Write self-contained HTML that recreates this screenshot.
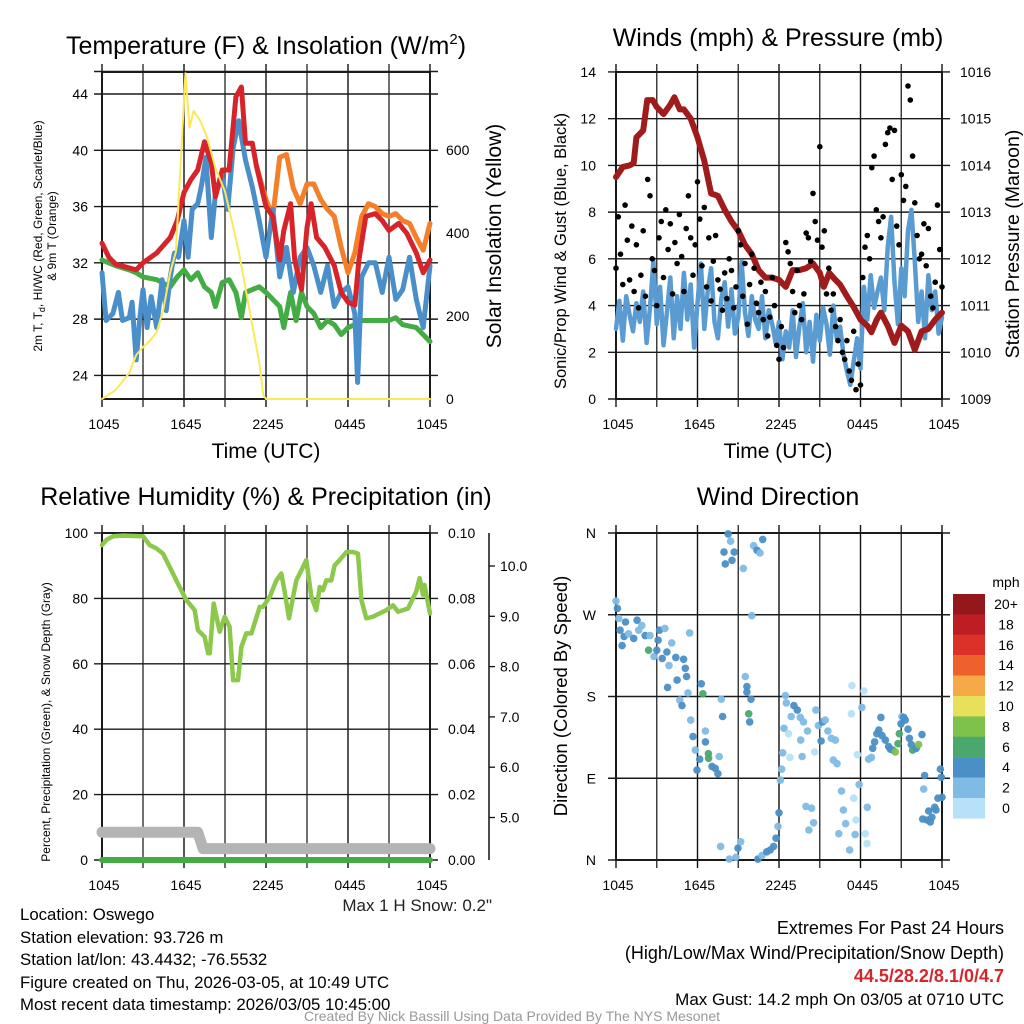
<!DOCTYPE html>
<html><head><meta charset="utf-8"><style>
html,body{margin:0;padding:0;background:#fff;}
svg{display:block;font-family:"Liberation Sans",Arial,sans-serif;}
</style></head><body>
<svg id="chart" width="1024" height="1024" viewBox="0 0 1024 1024" xmlns="http://www.w3.org/2000/svg">
<rect width="1024" height="1024" fill="#fff"/>
<g id="grids"></g>
<g id="series"></g>
<g id="labels" font-size="14" fill="#000">
 <text x="266" y="54" font-size="25" text-anchor="middle">Temperature (F) &amp; Insolation (W/m<tspan font-size="15" dy="-10">2</tspan><tspan dy="10">)</tspan></text>
 <text x="778" y="46" font-size="25" text-anchor="middle">Winds (mph) &amp; Pressure (mb)</text>
 <text x="266" y="505" font-size="25" text-anchor="middle">Relative Humidity (%) &amp; Precipitation (in)</text>
 <text x="778" y="505" font-size="25" text-anchor="middle">Wind Direction</text>
 <g font-size="12" text-anchor="middle">
  <text transform="translate(42,236) rotate(-90)">2m T, T<tspan font-size="9" dy="3">d</tspan><tspan dy="-3">, HI/WC (Red, Green, Scarlet/Blue)</tspan></text>
  <text transform="translate(56,236) rotate(-90)">&amp; 9m T (Orange)</text>
 </g>
 <text transform="translate(501,236) rotate(-90)" font-size="21" text-anchor="middle">Solar Insolation (Yellow)</text>
 <text transform="translate(566,251) rotate(-90)" font-size="16.5" text-anchor="middle">Sonic/Prop Wind &amp; Gust (Blue, Black)</text>
 <text transform="translate(1019,244) rotate(-90)" font-size="19.5" text-anchor="middle">Station Pressure (Maroon)</text>
 <text transform="translate(50,722) rotate(-90)" font-size="12" text-anchor="middle">Percent, Precipitation (Green), &amp; Snow Depth (Gray)</text>
 <text transform="translate(567,696) rotate(-90)" font-size="18.5" text-anchor="middle">Direction (Colored By Speed)</text>
 <text x="266" y="458" font-size="21" text-anchor="middle">Time (UTC)</text>
 <text x="778" y="458" font-size="21" text-anchor="middle">Time (UTC)</text>
 <text x="492" y="911" font-size="17" text-anchor="end" fill="#222">Max 1 H Snow: 0.2"</text>
 <text x="1006" y="587" text-anchor="middle">mph</text>
 <g font-size="16.8">
  <text x="20" y="920">Location: Oswego</text>
  <text x="20" y="943">Station elevation: 93.726 m</text>
  <text x="20" y="965">Station lat/lon: 43.4432; -76.5532</text>
  <text x="20" y="988">Figure created on Thu, 2026-03-05, at 10:49 UTC</text>
  <text x="20" y="1010">Most recent data timestamp: 2026/03/05 10:45:00</text>
 </g>
 <g text-anchor="end" font-size="18">
  <text x="1004" y="934">Extremes For Past 24 Hours</text>
  <text x="1004" y="959">(High/Low/Max Wind/Precipitation/Snow Depth)</text>
  <text x="1004" y="982" fill="#d7262b" font-weight="bold">44.5/28.2/8.1/0/4.7</text>
  <text x="1004" y="1005" font-size="17">Max Gust: 14.2 mph On 03/05 at 0710 UTC</text>
 </g>
 <text x="512" y="1021" font-size="14" text-anchor="middle" fill="#999">Created By Nick Bassill Using Data Provided By The NYS Mesonet</text>
</g>
</svg>
<script>
// ---------- data ----------
const xTickLabels=["1045","1645","2245","0445","1045"];
const tempTicks=[24,28,32,36,40,44];
const insolTicks=[0,200,400,600];
const windTicks=[0,2,4,6,8,10,12,14];
const presTicks=[1009,1010,1011,1012,1013,1014,1015,1016];
const rhTicks=[0,20,40,60,80,100];
const precipTicks=["0.00","0.02","0.04","0.06","0.08","0.10"];
const snowTicks=["5.0","6.0","7.0","8.0","9.0","10.0"];
const dirTicks=["N","E","S","W","N"];
const legendLabels=["20+","18","16","14","12","10","8","6","4","2","0"];
const legendColors=["#93171b","#bd1e26","#dc3128","#ee612d","#f6aa47","#e6e05a","#7fc24b","#4aa86e","#4a8fc6","#80bbe5","#b6e1f8"];

const redH=[0,0.5,1,2.5,3,4,5,5.5,6,6.5,7,7.5,8,8.3,8.8,9.3,9.8,10.2,10.5,11,11.3,12,12.5,13,13.3,13.8,14.1,14.6,15,15.3,15.7,16.3,17,17.5,18,18.5,18.8,19.3,20,20.5,21,21.7,22.3,23,23.5,24];
const redV=[33.4,32.4,31.9,31.5,32.0,32.7,33.8,35.0,37.0,37.9,38.6,40.6,39.1,36.7,38.6,38.6,43.8,44.5,40.5,40.5,38.9,36.0,35.3,32.2,34.3,36.2,32.2,30.1,34.5,36.2,33.8,33.1,31.8,29.9,29.2,29.0,32.2,35.3,35.5,35.0,34.3,34.8,34.1,32.7,31.3,32.2];
const orangeH=[11.3,12,12.5,13,13.5,14,14.5,15,15.5,16,16.5,17,17.5,18,18.5,19,19.5,20,20.5,21,21.5,22,22.5,23,23.5,24];
const orangeV=[38.9,36.5,35.3,39.5,39.7,37.3,36.2,37.6,37.6,36.5,35.8,35.3,33.1,31.3,32.7,35.3,36.2,36.0,35.5,35.3,35.5,35.0,34.8,33.8,32.9,34.8];
const greenH=[0,1,2,2.5,3,4,5,5.5,6,6.5,7,7.5,8,8.3,8.8,9.3,9.8,10.2,10.5,11,11.5,12,12.5,13,13.3,13.8,14.2,14.6,15,15.5,16,16.5,17,17.5,18,18.5,19,20,21,21.5,22,23,23.5,24];
const greenV=[32.2,31.8,31.5,31.3,31.0,30.8,30.3,31.0,31.5,30.8,31.3,30.3,29.9,28.9,30.6,30.8,29.9,28.1,29.9,30.1,30.3,29.9,29.4,28.9,27.4,29.9,27.9,29.9,28.9,28.4,27.4,27.9,27.6,26.9,27.4,27.6,27.9,27.9,27.9,28.1,27.6,27.4,26.9,26.4];
const blueH=[0,0.3,0.8,1.2,1.5,2,2.2,2.5,2.8,3,3.3,3.6,4,4.4,4.7,5,5.3,5.6,6,6.3,6.6,7,7.3,7.6,8,8.3,8.8,9.2,9.6,10,10.5,11,11.5,12,12.5,13,13.5,14,14.5,15,15.5,16,16.5,17,17.5,18,18.5,18.7,19,19.5,20,20.5,21,21.5,22,22.5,23,23.5,24];
const blueV=[31.3,27.9,28.4,29.9,27.9,28.1,29.2,25.1,28.4,30.1,27.4,29.6,27.4,30.8,28.6,31.0,32.7,32.4,35.0,32.4,35.8,36.2,37.6,39.5,33.8,36.9,38.1,35.8,40.2,42.1,39.3,37.4,35.0,32.4,35.8,31.0,33.1,29.9,32.4,33.1,31.8,29.9,31.8,28.9,29.9,30.3,28.4,23.5,31.0,32.0,32.0,29.9,32.4,29.4,30.1,32.4,29.4,27.4,31.8];
const insolH=[0,1,2,2.5,3,3.5,4,4.5,5,5.4,5.8,6.1,6.4,6.7,7.2,7.7,8.3,9,9.5,10,10.5,11,11.5,11.8,12,24];
const insolV=[0,22,63,106,125,140,161,217,306,354,595,785,654,694,670,630,557,500,429,356,267,178,89,10,0,0];

const presH=[0,0.5,1,1.3,1.5,2,2.3,2.7,3,3.5,4,4.3,4.7,5,5.5,6,6.5,7,7.5,8,8.5,9,9.5,10,10.5,11,11.5,12,12.5,13,13.5,14,14.5,15,15.3,15.7,16,16.5,17,17.5,18,18.5,18.8,19.2,19.5,20,20.5,21,21.5,22,22.5,23,23.5,24];
const presV=[1013.75,1013.97,1014.0,1014.05,1014.6,1014.75,1015.4,1015.4,1015.25,1015.1,1015.3,1015.46,1015.2,1015.2,1015.0,1014.6,1014.1,1013.4,1013.35,1013.05,1012.8,1012.6,1012.3,1012.1,1011.76,1011.6,1011.6,1011.55,1011.4,1011.76,1011.76,1011.8,1011.9,1011.7,1011.4,1011.7,1011.6,1011.45,1011.2,1010.97,1010.7,1010.57,1010.43,1010.7,1010.85,1010.57,1010.2,1010.57,1010.45,1010.05,1010.45,1010.5,1010.7,1010.85];
const windV=[3.0,4.2,2.5,4.4,3.6,2.9,4.1,3.3,4.6,2.4,3.9,5.9,3.2,4.8,2.3,3.7,5.2,2.6,4.4,3.0,5.4,3.4,4.9,2.2,4.1,5.8,3.0,4.6,5.6,3.3,2.6,4.3,5.0,3.1,4.7,2.8,3.5,5.9,3.7,2.7,4.4,3.4,3.0,4.4,2.6,3.8,3.2,2.4,3.3,1.7,2.9,2.2,3.8,1.8,3.1,4.1,2.0,3.3,1.6,3.6,2.5,3.9,3.2,1.9,4.0,2.6,3.1,1.9,1.2,0.6,1.6,2.6,1.3,4.8,3.4,5.3,3.9,4.6,5.2,3.8,6.5,7.8,5.0,3.2,5.6,4.4,7.2,8.1,5.9,3.3,4.6,2.6,5.3,3.8,4.6,2.8,3.5];
const gustV=[5.6,7.8,6.2,4.9,8.3,6.8,5.1,7.4,4.6,6.6,3.9,5.3,7.2,4.4,9.4,8.7,6.0,5.5,4.0,6.9,7.6,5.2,8.1,6.4,7.5,4.5,6.7,5.8,7.9,6.1,4.6,7.3,8.7,6.9,5.3,6.6,9.3,7.7,5.7,8.2,4.8,6.9,4.2,5.9,7.0,5.1,4.7,3.8,5.4,4.3,6.0,5.5,3.9,4.8,7.2,6.6,4.4,5.8,3.2,4.9,6.2,5.6,4.1,3.7,5.0,3.4,4.6,2.7,3.5,5.2,4.0,2.3,1.7,3.1,2.2,6.7,6.3,5.8,4.6,3.7,5.5,4.0,3.4,4.5,7.1,6.9,5.9,8.8,7.6,6.8,10.8,6.5,7.2,4.5,5.6,3.8,4.5,3.1,2.5,3.4,2.0,1.7,2.5,1.2,0.8,2.9,0.4,1.5,0.6,5.2,6.5,7.0,6.0,9.9,10.4,8.1,7.6,6.9,7.8,10.9,11.4,11.6,9.4,11.5,7.4,6.6,9.6,8.5,9.1,13.4,12.8,10.4,8.4,7.0,6.0,6.2,7.5,5.7,7.3,4.4,3.9,5.0,8.3,6.4,4.8];

const rhH=[0,0.32,0.8,1.54,3,3.49,3.98,4.46,4.95,5.44,5.68,6.17,6.78,7.02,7.51,7.76,7.88,8.17,8.61,8.98,9.34,9.59,9.95,10.2,10.56,10.93,11.54,11.78,12.27,12.76,13.12,13.37,13.68,13.98,14.22,14.59,14.95,15.32,15.68,15.93,16.17,16.41,16.78,17.02,17.39,17.88,18.37,18.73,18.98,19.34,19.83,20.32,20.8,21.29,21.66,22.39,23.0,23.24,23.49,23.6,24];
const rhV=[96.3,97.9,99,99.2,99,96.3,95.3,93.7,89.6,85.5,83.5,79.5,76.4,70.3,68.3,63.2,63.2,78.4,69.8,74.4,71.3,55,55,65.2,69.3,69.3,77.4,77.4,80.5,85.5,87.6,82,73.9,80.5,85.5,88.6,91.7,80.5,76.4,83.5,82.5,85.5,85.5,90.1,91.7,94.2,94.2,93.7,79.5,73.9,74.4,75.4,76.4,77.9,75.9,76.9,82.1,86.2,81.1,84.1,75.4];
const snowH=[0,7.0,7.4,24];
const snowV=[0.0085,0.0085,0.0035,0.0035];
const precipH=[0,24];
const precipV=[0,0];

const dirH=[0,0.1,0.2,0.7,0.3,0.6,0.45,0.93,1.3,1.55,1.67,1.9,2.15,2.4,2.5,2.8,3.0,3.1,3.2,3.4,3.6,3.75,4.1,3.9,4.4,4.5,4.98,5.1,5.2,3.8,4.7,4.86,5.3,5.42,5.5,5.67,5.84,5.96,6.16,6.28,6.4,6.58,6.58,6.8,6.82,7.07,7.3,7.5,7.6,7.75,7.85,7.7,7.95,8.05,8.25,8.44,8.54,8.7,8.34,8.83,8.98,9.18,9.37,9.52,9.64,9.64,9.77,9.84,9.94,10.0,10.13,10.38,10.6,10.8,10.45,10.75,11.1,11.35,11.6,11.78,11.93,12.0,12.1,12.2,12.27,12.37,12.47,12.54,12.7,12.8,12.9,13.1,13.35,13.57,13.7,13.6,13.8,14.1,13.98,14.2,14.4,14.55,14.63,14.72,14.9,15.1,15.2,15.4,15.6,15.85,16.0,16.15,16.27,16.6,16.74,16.4,16.9,17.2,17.37,17.33,17.5,17.67,17.6,17.77,17.9,18.1,18.26,18.35,18.48,18.5,18.6,18.8,18.9,19.04,19.2,19.35,19.5,19.58,19.83,20.07,20.2,20.37,20.56,20.76,20.86,20.98,21.05,21.18,21.3,21.5,21.6,21.74,21.84,22.1,22.28,22.53,22.72,22.65,22.58,22.9,23.14,23.26,23.46,23.56,23.7,24,23.88,23.95,23.02];
const dirV=[285,277,266,262,253,246,236,249,244,264,253,258,247,231,247,224,231,242,253,222,255,229,239,214,223,198,221,211,202,190,176,170,184,250,154,136,121,99,111,194,183,142,130,117,112,103,101,95,114,177,158,15,339,326,359,351,330,339,1,3,13,20,321,202,191,185,161,152,177,269,346,341,338,353,1,5,9,11,15,24,37,52,88,100,118,145,181,173,139,113,158,170,165,157,114,132,152,142,59,33,57,41,119,165,148,131,152,154,142,134,110,132,106,76,55,29,40,11,192,161,68,44,28,116,83,168,186,29,18,58,111,113,123,130,139,143,157,137,132,125,122,121,119,128,139,150,158,157,154,144,134,127,121,123,127,138,93,78,45,44,42,47,58,55,68,69,100,91,54];
const dirS=[3,4.5,3,4.5,4.5,4.5,4.5,3,4.5,4.5,3,3,4.5,6.5,3,3,4.5,4.5,4.5,4.5,3,4.5,3,3,4.5,4.5,4.5,4.5,4.5,4.5,3,4.5,3,3,3,4.5,3,4.5,4.5,4.5,6.5,3,4.5,6.5,6.5,4.5,4.5,4.5,3,3,4.5,3,4.5,4.5,4.5,3,4.5,4.5,3,3,4.5,3,3,3,4.5,4.5,6.5,4.5,4.5,3,3,4.5,3,4.5,4.5,3,4.5,4.5,4.5,4.5,3,4.5,3,3,3,3,3,3,1.5,1.5,3,4.5,4.5,3,3,3,3,3,3,3,3,3,1.5,3,3,4.5,4.5,3,3,3,3,3,3,3,3,3,3,3,1.5,1.5,1.5,1.5,3,1.5,3,3,1.5,1.5,1.5,3,3,3,4.5,4.5,4.5,4.5,4.5,4.5,4.5,4.5,4.5,4.5,8.5,6.5,6.5,4.5,3,4.5,4.5,4.5,4.5,4.5,6.5,4.5,8.5,4.5,4.5,3,4.5,4.5,4.5,4.5,4.5,4.5,4.5,4.5,4.5,4.5,4.5,4.5,4.5,4.5];

// ---------- scales ----------
const NS="http://www.w3.org/2000/svg";
const P1={x0:102,x1:430,y0:72,y1:399},P2={x0:616,x1:942,y0:72,y1:399},P3={x0:102,x1:430,y0:533,y1:860},P4={x0:616,x1:942,y0:533,y1:860};
const xs=P=>h=>P.x0+h*(P.x1-P.x0)/24;
const x1=xs(P1),x2=xs(P2),x3=xs(P3),x4=xs(P4);
const yT=v=>94+(44-v)*14.07, yI=v=>399-v*83/200;
const yW=v=>399-v*23.36, yP=v=>399-(v-1009)*46.71;
const yRH=v=>860-v*3.27, yPr=v=>860-v*3270, ySn=v=>566+(10-v)*50.3;
const yD=d=>860-d*327/360;
const G=document.getElementById('grids'),S=document.getElementById('series'),L=document.getElementById('labels');
function mk(tag,attrs,parent){const e=document.createElementNS(NS,tag);for(const k in attrs)e.setAttribute(k,attrs[k]);parent.appendChild(e);return e;}
function txt(parent,x,y,s,anchor,size){const t=mk('text',{x:x,y:y,'text-anchor':anchor,'font-size':size||14},parent);t.textContent=s;return t;}

// ---------- axes / grids ----------
function frame(P,name,hLines){
  const g=mk('g',{stroke:'#1a1a1a','stroke-width':1.4,fill:'none'},G);
  
  
  for(let i=0;i<=8;i++){const x=P.x0+i*(P.x1-P.x0)/8;mk('line',{x1:x,y1:P.y0-8,x2:x,y2:P.y1+8,stroke:i%2?'#333':'#111'},g);}
  hLines.forEach(y=>mk('line',{x1:P.x0-8,y1:y,x2:P.x1+8,y2:y},g));
  mk('rect',{x:P.x0,y:P.y0,width:P.x1-P.x0,height:P.y1-P.y0,'stroke-width':2},g);
  const xl=mk('g',{},L);
  
  
  xTickLabels.forEach((s,i)=>txt(xl,P.x0+2+i*(P.x1-P.x0)/4,P.y1+30,s,'middle',14));
}
frame(P1,'temp',tempTicks.map(yT).concat([yT(45.6)]));
frame(P2,'wind',windTicks.map(yW));
frame(P3,'rh',rhTicks.map(yRH));
frame(P4,'dir',[0,90,180,270,360].map(yD));

let g;
g=mk('g',{},L);
tempTicks.forEach(v=>txt(g,88,yT(v)+5,String(v),'end'));
g=mk('g',{},L);
insolTicks.forEach(v=>txt(g,446,yI(v)+5,String(v),'start'));
g=mk('g',{},L);
windTicks.forEach(v=>txt(g,596,yW(v)+5,String(v),'end'));
g=mk('g',{},L);
presTicks.forEach(v=>txt(g,960,yP(v)+5,String(v),'start'));
g=mk('g',{},L);
rhTicks.forEach(v=>txt(g,88,yRH(v)+5,String(v),'end'));
g=mk('g',{},L);
precipTicks.forEach((s,i)=>txt(g,448,yRH(i*20)+5,s,'start'));
g=mk('g',{},L);
mk('line',{x1:489,y1:533,x2:489,y2:860,stroke:'#111','stroke-width':1.5},g);
snowTicks.forEach(s=>{const y=ySn(parseFloat(s));mk('line',{x1:489,y1:y,x2:495,y2:y,stroke:'#111','stroke-width':1.3},g);txt(g,500,y+5,s,'start');});
g=mk('g',{},L);
dirTicks.forEach((s,i)=>txt(g,596,yD(i*90)+5,s,'end'));

// ---------- series ----------
function path(hs,vs,xf,yf,color,w,name){
  const d=hs.map((h,i)=>(i?'L':'M')+xf(h).toFixed(1)+','+yf(vs[i]).toFixed(1)).join('');
  const p=mk('path',{d:d,fill:'none',stroke:color,'stroke-width':w,'stroke-linejoin':'round','stroke-linecap':'round'},S);
  
  
}
path(orangeH,orangeV,x1,yT,'#f47f2a',5,'nine-m-temp-line');
path(greenH,greenV,x1,yT,'#44ac44',5,'dewpoint-line');
path(blueH,blueV,x1,yT,'#4a8fc9',5,'windchill-line');
path(redH,redV,x1,yT,'#d6242a',5,'two-m-temp-line');
path(insolH,insolV,x1,yI,'#fde85a',2,'insolation-line');

const windH=windV.map((v,i)=>i*0.25);
path(windH,windV,x2,yW,'#5a9bd2',4.5,'wind-speed-line');
path(presH,presV,x2,yP,'#a01c1c',6,'pressure-line');
g=mk('g',{fill:'#000'},S);
gustV.forEach((v,i)=>{const c=mk('circle',{cx:x2(i/6).toFixed(1),cy:yW(v).toFixed(1),r:2.8},g);

});

path(snowH,snowV,x3,yPr,'#b4b4b4',11,'snow-depth-line');
path(precipH,precipV,x3,yPr,'#43ab44',6,'precip-line');
path(rhH,rhV,x3,yRH,'#8cc84b',4.5,'rh-line');

function col(s){const idx=Math.min(10,Math.floor(s/2));return legendColors[10-idx];}
g=mk('g',{},S);
dirV.forEach((d,i)=>{const c=mk('circle',{cx:x4(dirH[i]).toFixed(1),cy:yD(d).toFixed(1),r:3.8,fill:col(dirS[i]),'fill-opacity':0.95},g);

});

g=mk('g',{},L);
legendColors.forEach((c,i)=>{const y=594+i*20.4;const r=mk('rect',{x:953,y:y,width:32,height:20.6,fill:c},g);


txt(g,1006,y+15,legendLabels[i],'middle',14);});
</script>
</body></html>
